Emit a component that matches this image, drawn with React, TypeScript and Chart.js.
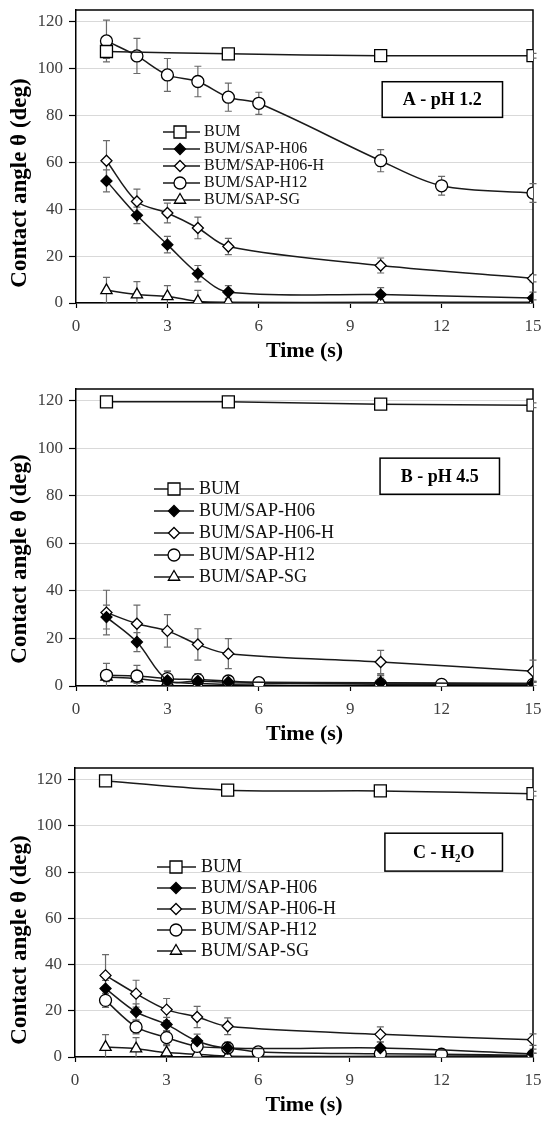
import React, { useEffect, useRef } from 'react';
import { Chart, registerables } from 'chart.js';

Chart.register(...registerables);

// ---------------- data ----------------
const SERIES_LABELS = ['BUM', 'BUM/SAP-H06', 'BUM/SAP-H06-H', 'BUM/SAP-H12', 'BUM/SAP-SG'];
const TIME_BUM = [1, 5, 10, 15];
const TIME_STD = [1, 2, 3, 4, 5, 10, 15];
const TIME_H12 = [1, 2, 3, 4, 5, 6, 10, 12, 15];
const X_TICKS = [0, 3, 6, 9, 12, 15];
const Y_TICKS = [0, 20, 40, 60, 80, 100, 120];
const PANEL_TITLES = ['A - pH 1.2', 'B - pH 4.5', 'C - H\u2082O'];
const X_TITLE = 'Time (s)';
const Y_TITLE = 'Contact angle \u03B8 (deg)';

// Panel A - pH 1.2
const A_BUM = [107.3, 106.3, 105.5, 105.5];
const A_BUM_ERR = [3.0, 1.0, 1.0, 1.0];
const A_H06 = [52.1, 37.4, 24.9, 12.5, 4.7, 3.6, 2.1];
const A_H06_ERR = [4.7, 3.5, 3.5, 3.5, 2.7, 3.0, 2.5];
const A_H06H = [60.7, 43.3, 38.4, 32.0, 24.1, 16.0, 10.5];
const A_H06H_ERR = [8.6, 5.3, 4.2, 4.6, 3.5, 3.2, 1.5];
const A_H12 = [111.8, 105.4, 97.3, 94.5, 87.8, 85.2, 60.7, 50.0, 46.9];
const A_H12_ERR = [8.9, 7.5, 7.0, 6.5, 6.0, 4.7, 4.7, 4.0, 4.0];
const A_SG = [5.4, 3.6, 2.8, 0.7, 0.3, 0.3, 0.3];
const A_SG_ERR = [5.5, 5.5, 4.6, 4.7, 1.0, 1.0, 1.0];

// Panel B - pH 4.5
const B_BUM = [119.6, 119.6, 118.6, 118.2];
const B_BUM_ERR = [1.0, 1.0, 1.0, 1.0];
const B_H06 = [29.0, 18.5, 2.4, 2.1, 1.7, 1.4, 1.0];
const B_H06_ERR = [5.0, 4.0, 4.0, 3.0, 2.0, 3.0, 1.0];
const B_H06H = [30.9, 26.2, 23.2, 17.5, 13.6, 10.1, 6.2];
const B_H06H_ERR = [9.4, 7.8, 6.8, 6.6, 6.3, 4.9, 4.7];
const B_H12 = [4.5, 4.2, 3.1, 2.7, 2.1, 1.4, 0.7, 0.7, 0.7];
const B_H12_ERR = [5.0, 4.5, 3.0, 2.5, 2.0, 1.0, 4.0, 1.0, 1.0];
const B_SG = [3.8, 3.1, 1.7, 1.0, 0.7, 1.3, 1.0];
const B_SG_ERR = [2.0, 2.0, 2.0, 1.5, 1.0, 2.0, 1.0];

// Panel C - H2O
const C_BUM = [119.4, 115.4, 115.1, 113.9];
const C_BUM_ERR = [1.0, 1.0, 1.0, 1.0];
const C_H06 = [29.6, 19.5, 14.1, 6.9, 3.9, 3.9, 1.4];
const C_H06_ERR = [3.5, 3.5, 3.0, 3.0, 2.5, 2.5, 2.0];
const C_H06H = [35.3, 27.4, 20.5, 17.3, 13.3, 9.8, 7.5];
const C_H06H_ERR = [9.0, 5.8, 4.8, 4.6, 3.6, 3.2, 2.5];
const C_H12 = [24.5, 13.0, 8.4, 4.6, 3.9, 2.2, 1.4, 1.2, 0.7];
const C_H12_ERR = [3.0, 3.0, 3.0, 2.5, 2.0, 1.0, 1.0, 1.0, 1.0];
const C_SG = [4.3, 3.6, 1.9, 1.2, 0.3, 0.3, 0.6];
const C_SG_ERR = [5.4, 4.8, 3.0, 2.0, 1.0, 1.0, 1.0];

const PANEL_SERIES = [
  [
    [TIME_BUM, A_BUM, A_BUM_ERR],
    [TIME_STD, A_H06, A_H06_ERR],
    [TIME_STD, A_H06H, A_H06H_ERR],
    [TIME_H12, A_H12, A_H12_ERR],
    [TIME_STD, A_SG, A_SG_ERR],
  ],
  [
    [TIME_BUM, B_BUM, B_BUM_ERR],
    [TIME_STD, B_H06, B_H06_ERR],
    [TIME_STD, B_H06H, B_H06H_ERR],
    [TIME_H12, B_H12, B_H12_ERR],
    [TIME_STD, B_SG, B_SG_ERR],
  ],
  [
    [TIME_BUM, C_BUM, C_BUM_ERR],
    [TIME_STD, C_H06, C_H06_ERR],
    [TIME_STD, C_H06H, C_H06H_ERR],
    [TIME_H12, C_H12, C_H12_ERR],
    [TIME_STD, C_SG, C_SG_ERR],
  ],
];

// ---------------- styles / layout ----------------
const FONT = '"Liberation Serif", "Times New Roman", Times, serif';
const LINE_COLOR = '#1a1a1a';
const MARKERS = [
  { style: 'rect', r: 8.5, fill: '#ffffff' },
  { style: 'rectRot', r: 5.5, fill: '#000000' },
  { style: 'rectRot', r: 5.5, fill: '#ffffff' },
  { style: 'circle', r: 6, fill: '#ffffff' },
  { style: 'triangle', r: 6.5, fill: '#ffffff' },
];

const LAYOUTS = [
  { top: 0, height: 375, plotTop: 10, plotBottom: 303, plotLeft: 76, legendDx: 88, legendY1: 132, legendFont: 16, legendPad: 1, yTitleY: 183, box: { x0: 10.05, x1: 14.0, y0: 79.2, y1: 94.4 } },
  { top: 375, height: 383, plotTop: 14, plotBottom: 311, plotLeft: 76, legendDx: 82, legendY1: 114, legendFont: 18, legendPad: 4, yTitleY: 184, box: { x0: 9.98, x1: 13.9, y0: 80.7, y1: 95.9 } },
  { top: 758, height: 371, plotTop: 10, plotBottom: 299, plotLeft: 75, legendDx: 85, legendY1: 109, legendFont: 18, legendPad: 3, yTitleY: 182, box: { x0: 10.15, x1: 14.0, y0: 80.4, y1: 96.8 } },
];

function makeIcon(m: { style: string; r: number; fill: string }): HTMLCanvasElement {
  const c = document.createElement('canvas');
  c.width = 40;
  c.height = 18;
  const g = c.getContext('2d')!;
  const cx = 20;
  const cy = 9;
  g.strokeStyle = LINE_COLOR;
  g.lineWidth = 1.5;
  g.beginPath();
  g.moveTo(0, cy);
  g.lineTo(40, cy);
  g.stroke();
  g.fillStyle = m.fill;
  g.strokeStyle = '#000';
  g.lineWidth = 1.3;
  g.beginPath();
  const r = m.r;
  if (m.style === 'rect') {
    const h = r * Math.SQRT1_2;
    g.rect(cx - h, cy - h, 2 * h, 2 * h);
  } else if (m.style === 'rectRot') {
    g.moveTo(cx - r, cy);
    g.lineTo(cx, cy - r);
    g.lineTo(cx + r, cy);
    g.lineTo(cx, cy + r);
    g.closePath();
  } else if (m.style === 'circle') {
    g.arc(cx, cy, r, 0, Math.PI * 2);
  } else {
    let a = 0;
    g.moveTo(cx + Math.sin(a) * r, cy - Math.cos(a) * r);
    a += (2 * Math.PI) / 3;
    g.lineTo(cx + Math.sin(a) * r, cy - Math.cos(a) * r);
    a += (2 * Math.PI) / 3;
    g.lineTo(cx + Math.sin(a) * r, cy - Math.cos(a) * r);
    g.closePath();
  }
  g.fill();
  g.stroke();
  return c;
}

const decorPlugin = {
  id: 'decor',
  afterLayout(chart: any, _args: any, opts: any) {
    const lg = chart.legend;
    if (!lg) return;
    const ca = chart.chartArea;
    const left = ca.left + opts.legendDx - opts.legendPad;
    const top = ca.top + opts.legendY1 - opts.plotTop - opts.legendFont / 2 - opts.legendPad;
    lg.left = left;
    lg.right = left + 400;
    lg.top = top;
    lg.bottom = top + 250;
  },
  beforeDatasetsDraw(chart: any) {
    const { ctx, chartArea: ca } = chart;
    const xs = chart.scales.x;
    const ys = chart.scales.y;
    ctx.save();
    ctx.strokeStyle = '#000';
    ctx.lineWidth = 1.5;
    ctx.beginPath();
    ctx.moveTo(ca.left, ca.top);
    ctx.lineTo(ca.right, ca.top);
    ctx.lineTo(ca.right, ca.bottom);
    ctx.stroke();
    ctx.beginPath();
    ctx.rect(ca.left - 10, ca.top - 10, ca.width + 20, ca.height + 10);
    ctx.clip();
    ctx.strokeStyle = '#6a6a6a';
    ctx.lineWidth = 1.2;
    chart.data.datasets.forEach((ds: any) => {
      ds.data.forEach((p: any, j: number) => {
        const e = ds.errors[j];
        if (!e) return;
        const px = xs.getPixelForValue(p.x);
        const yt = ys.getPixelForValue(p.y + e);
        const yb = ys.getPixelForValue(p.y - e);
        ctx.beginPath();
        ctx.moveTo(px, yt);
        ctx.lineTo(px, yb);
        ctx.moveTo(px - 3.5, yt);
        ctx.lineTo(px + 3.5, yt);
        ctx.moveTo(px - 3.5, yb);
        ctx.lineTo(px + 3.5, yb);
        ctx.stroke();
      });
    });
    ctx.restore();
  },
  afterDraw(chart: any, _args: any, opts: any) {
    const { ctx } = chart;
    const xs = chart.scales.x;
    const ys = chart.scales.y;
    ctx.save();
    // y axis title
    ctx.translate(20, opts.yTitleY);
    ctx.rotate(-Math.PI / 2);
    ctx.font = `bold 23px ${FONT}`;
    ctx.fillStyle = '#000';
    ctx.textAlign = 'center';
    ctx.textBaseline = 'middle';
    ctx.fillText(Y_TITLE, 0, 0);
    ctx.restore();
    // panel label box
    const b = opts.box;
    const x0 = xs.getPixelForValue(b.x0);
    const x1 = xs.getPixelForValue(b.x1);
    const y0 = ys.getPixelForValue(b.y1);
    const y1 = ys.getPixelForValue(b.y0);
    ctx.save();
    ctx.fillStyle = '#fff';
    ctx.fillRect(x0, y0, x1 - x0, y1 - y0);
    ctx.strokeStyle = '#000';
    ctx.lineWidth = 1.5;
    ctx.strokeRect(x0, y0, x1 - x0, y1 - y0);
    ctx.font = `bold 18px ${FONT}`;
    ctx.fillStyle = '#000';
    ctx.textAlign = 'center';
    ctx.textBaseline = 'middle';
    ctx.fillText(opts.title, (x0 + x1) / 2, (y0 + y1) / 2 + 1);
    ctx.restore();
  },
};

function buildConfig(idx: number): any {
  const L = LAYOUTS[idx];
  const icons = MARKERS.map(makeIcon);
  const datasets = PANEL_SERIES[idx].map(([t, v, e], i) => ({
    label: SERIES_LABELS[i],
    data: (t as number[]).map((tt, j) => ({ x: tt, y: (v as number[])[j] })),
    errors: e,
    borderColor: LINE_COLOR,
    borderWidth: 1.5,
    tension: 0.33,
    fill: false,
    pointStyle: MARKERS[i].style,
    pointRadius: MARKERS[i].r,
    pointHoverRadius: MARKERS[i].r,
    pointBackgroundColor: MARKERS[i].fill,
    pointBorderColor: '#000',
    pointBorderWidth: 1.3,
  }));
  return {
    type: 'line',
    data: { datasets },
    plugins: [decorPlugin],
    options: {
      responsive: false,
      animation: false,
      events: [],
      layout: { padding: { top: L.plotTop, left: 0, right: 550 - 533, bottom: 0 } },
      scales: {
        x: {
          type: 'linear',
          min: 0,
          max: 15,
          afterBuildTicks: (s: any) => {
            s.ticks = X_TICKS.map((v) => ({ value: v }));
          },
          afterFit: (s: any) => {
            s.height = L.height - L.plotBottom;
            s.paddingLeft = 0;
            s.paddingRight = 0;
          },
          ticks: { font: { family: FONT, size: 17 }, color: '#404040', padding: 8, maxRotation: 0, autoSkip: false },
          grid: { display: true, drawOnChartArea: false, drawTicks: true, tickLength: 5, tickColor: '#000', tickWidth: 1.2 },
          border: { display: true, color: '#000', width: 1.5 },
          title: {
            display: true,
            text: X_TITLE,
            color: '#000',
            font: { family: FONT, size: 22, weight: 'bold' },
            padding: { top: 0, bottom: 10 },
          },
        },
        y: {
          type: 'linear',
          min: 0,
          max: 125,
          afterBuildTicks: (s: any) => {
            s.ticks = Y_TICKS.map((v) => ({ value: v }));
          },
          afterFit: (s: any) => {
            s.width = L.plotLeft;
            s.paddingTop = 0;
            s.paddingBottom = 0;
          },
          ticks: { font: { family: FONT, size: 17 }, color: '#404040', padding: 6, includeBounds: false },
          grid: { color: '#d9d9d9', lineWidth: 1, tickLength: 7, tickColor: '#000', tickWidth: 1.2 },
          border: { display: true, color: '#000', width: 1.5 },
        },
      },
      plugins: {
        tooltip: { enabled: false },
        title: { display: false },
        legend: {
          display: true,
          position: 'chartArea',
          align: 'start',
          labels: {
            usePointStyle: true,
            pointStyleWidth: 32,
            padding: L.legendPad,
            color: '#111',
            font: { family: FONT, size: L.legendFont },
            generateLabels: (chart: any) =>
              chart.data.datasets.map((ds: any, i: number) => ({
                text: ds.label,
                fillStyle: 'rgba(0,0,0,0)',
                strokeStyle: 'rgba(0,0,0,0)',
                lineWidth: 0,
                hidden: false,
                datasetIndex: i,
                pointStyle: icons[i],
                fontColor: '#111',
              })),
          },
        },
        decor: {
          legendDx: L.legendDx,
          legendY1: L.legendY1,
          legendFont: L.legendFont,
          legendPad: L.legendPad,
          plotTop: L.plotTop,
          yTitleY: L.yTitleY,
          box: L.box,
          title: PANEL_TITLES[idx],
        },
      },
    },
  };
}

function Panel({ idx }: { idx: number }) {
  const ref = useRef<HTMLCanvasElement>(null);
  const L = LAYOUTS[idx];
  useEffect(() => {
    const chart = new Chart(ref.current as HTMLCanvasElement, buildConfig(idx));
    return () => chart.destroy();
  }, [idx]);
  return (
    <div style={{ position: 'absolute', left: 0, top: L.top, width: 550, height: L.height }}>
      <canvas ref={ref} width={550} height={L.height} style={{ display: 'block', width: 550, height: L.height }} />
    </div>
  );
}

export default function App() {
  return (
    <div style={{ position: 'absolute', left: 0, top: 0, width: 550, height: 1131, background: '#fff' }}>
      {PANEL_TITLES.map((_, i) => (
        <Panel key={i} idx={i} />
      ))}
    </div>
  );
}
